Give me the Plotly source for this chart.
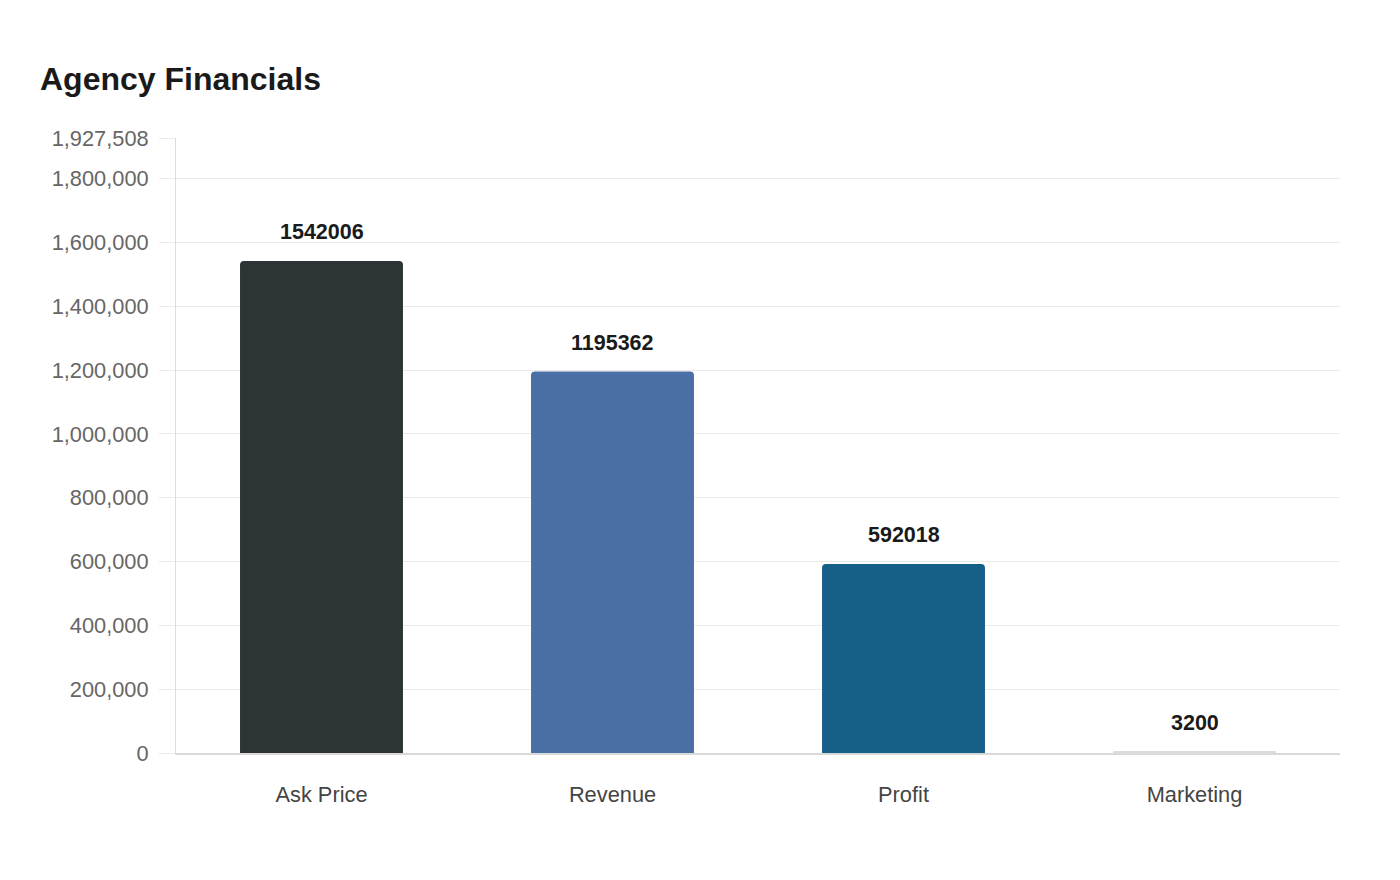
import plotly.graph_objects as go

categories = ["Ask Price", "Revenue", "Profit", "Marketing"]
values = [1542006, 1195362, 592018, 3200]
colors = ["#2d3436", "#4a6fa5", "#166088", "#dcdcdc"]
y_max = 1927508
tick_vals = [0, 200000, 400000, 600000, 800000, 1000000, 1200000, 1400000, 1600000, 1800000, 1927508]
tick_text = [f"{v:,}" for v in tick_vals]

FONT = "Liberation Sans, Arial, sans-serif"

fig = go.Figure()
fig.add_trace(go.Bar(
    x=categories, y=values,
    marker=dict(color=colors, cornerradius=4, line=dict(width=0)),
    width=0.56,
    hoverinfo="x+y",
))

for c, v in zip(categories, values):
    fig.add_annotation(x=c, y=v, text=f"<b>{v}</b>", showarrow=False,
                       yanchor="middle", yshift=29,
                       font=dict(family=FONT, size=21.5, color="#1a1a1a"))

fig.update_layout(
    width=1400, height=880,
    paper_bgcolor="white", plot_bgcolor="white",
    margin=dict(l=176, r=60, t=138, b=127),
    showlegend=False,
    title=dict(text="<b>Agency Financials</b>", x=40/1400, xanchor="left",
               y=1-79/880, yanchor="middle",
               font=dict(family=FONT, size=32, color="#1a1a1a")),
    font=dict(family=FONT),
    bargap=0.44,
)
fig.update_yaxes(
    range=[0, y_max], tickvals=tick_vals, ticktext=tick_text,
    showgrid=True, gridcolor="#ebebeb", gridwidth=1,
    zeroline=False,
    showline=True, linecolor="#dddddd", linewidth=1,
    ticks="outside", ticklen=16, tickcolor="#ebebeb",
    ticklabelstandoff=6,
    tickfont=dict(size=21.8, color="#666666"),
)
fig.update_xaxes(
    showgrid=False, showline=True, linecolor="#d9d9d9", linewidth=2,
    layer="above traces",
    ticks="", ticklabelstandoff=21,
    tickfont=dict(size=21.8, color="#444444"),
)

fig.write_html("out.html")
